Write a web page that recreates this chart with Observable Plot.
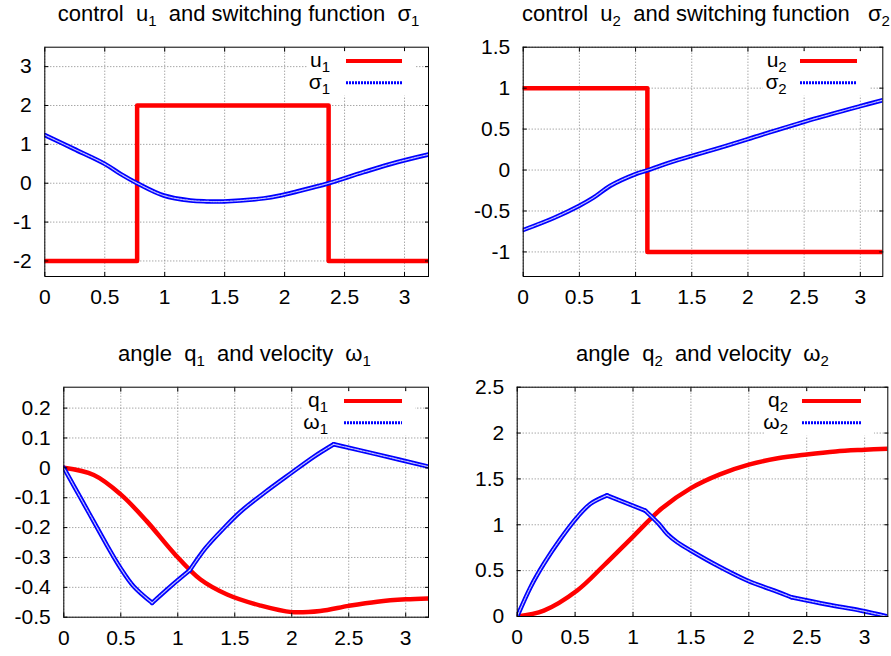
<!DOCTYPE html>
<html><head><meta charset="utf-8">
<script src="https://cdn.jsdelivr.net/npm/d3@7"></script>
<script src="https://cdn.jsdelivr.net/npm/@observablehq/plot@0.6"></script>
<style>
body{margin:0;background:#fff;}
#root{position:relative;width:891px;height:656px;overflow:hidden;background:#fff;font-family:"Liberation Sans",Arial,sans-serif;}
#root > svg, #root > div{position:absolute;}
</style></head>
<body><div id="root"></div>
<script>
// ---------- data ----------
const xTicks = [0, 0.5, 1, 1.5, 2, 2.5, 3];
const switchT = [0.775, 1.105, 2.368];   // kinks in the velocity curves

const u1T = [0, 0.77, 2.367, 3.2];
const u1V = [-2, 2, -2, -2];
const sigma1T = [0, 0.242, 0.5, 0.631, 0.77, 0.992, 1.214, 1.35, 1.492, 1.825, 1.964, 2.103, 2.242, 2.367, 2.658, 2.936, 3.2];
const sigma1V = [1.24, 0.884, 0.498, 0.24, 0, -0.316, -0.445, -0.468, -0.47, -0.39, -0.316, -0.213, -0.103, 0, 0.284, 0.54, 0.74];
const y1Ticks = [-2, -1, 0, 1, 2, 3];

const u2T = [0, 1.105, 3.2];
const u2V = [1, -1, -1];
const sigma2T = [0, 0.272, 0.5, 0.628, 0.776, 1.0, 1.111, 1.309, 1.502, 1.739, 2.0, 2.5, 3.0, 3.2];
const sigma2V = [-0.732, -0.585, -0.435, -0.334, -0.191, -0.049, 0, 0.093, 0.174, 0.268, 0.378, 0.589, 0.78, 0.853];
const y2Ticks = [-1, -0.5, 0, 0.5, 1, 1.5];

const q1T = [0, 0.263, 0.497, 0.731, 0.965, 1.2, 1.433, 1.725, 2.0, 2.25, 2.5, 2.75, 3.0, 3.2];
const q1V = [0, -0.024, -0.088, -0.18, -0.285, -0.374, -0.424, -0.461, -0.483, -0.479, -0.462, -0.448, -0.44, -0.437];
const omega1T = [0, 0.146, 0.263, 0.38, 0.497, 0.614, 0.775, 0.936, 1.105, 1.243, 1.404, 1.55, 1.754, 1.989, 2.193, 2.368, 2.75, 3.2];
const omega1V = [0, -0.1, -0.18, -0.26, -0.335, -0.397, -0.452, -0.397, -0.343, -0.269, -0.202, -0.147, -0.085, -0.019, 0.037, 0.079, 0.045, 0.004];
const y3Ticks = [-0.5, -0.4, -0.3, -0.2, -0.1, 0, 0.1, 0.2];

const q2T = [0, 0.23, 0.518, 0.748, 1.007, 1.25, 1.5, 1.75, 2.0, 2.25, 2.5, 2.75, 3.0, 3.2];
const q2V = [0, 0.065, 0.284, 0.556, 0.88, 1.18, 1.40, 1.55, 1.655, 1.725, 1.767, 1.8, 1.818, 1.83];
const omega2T = [0, 0.115, 0.23, 0.374, 0.518, 0.633, 0.775, 1.105, 1.223, 1.295, 1.382, 1.497, 1.727, 1.986, 2.216, 2.368, 2.677, 2.965, 3.2];
const omega2V = [0, 0.32, 0.575, 0.847, 1.083, 1.229, 1.32, 1.155, 1.01, 0.9, 0.81, 0.72, 0.556, 0.393, 0.284, 0.21, 0.131, 0.065, 0.0];
const y4Ticks = [0, 0.5, 1, 1.5, 2, 2.5];

const titles = [
  ["control  u", "1", "  and switching function  σ", "1"],
  ["control  u", "2", "  and switching function   σ", "2"],
  ["angle  q", "1", "  and velocity  ω", "1"],
  ["angle  q", "2", "  and velocity  ω", "2"]
];
const legendNames = [["u", "1", "σ", "1"], ["u", "2", "σ", "2"], ["q", "1", "ω", "1"], ["q", "2", "ω", "2"]];

// ---------- drawing ----------
const FONT = "'Liberation Sans', Arial, sans-serif";
const FS = 21;
const rows = (T, V) => T.map((t, i) => ({t, v: V[i], seg: 0}));
// split a series into smooth pieces at the switching times (kink points shared)
function pieces(T, V, kinks) {
  const out = [];
  let seg = 0;
  T.forEach((t, i) => {
    out.push({t, v: V[i], seg});
    if (i > 0 && i < T.length - 1 && kinks.some(k => Math.abs(k - t) < 1e-9)) {
      seg++;
      out.push({t, v: V[i], seg});
    }
  });
  return out;
}
const root = document.getElementById("root");

const panels = [
  {left: 0, top: 0, width: 445, height: 310, ml: 44.3, mr: 17, mt: 46.7, mb: 34, yDomain: [-2.4, 3.5], yTicks: y1Ticks,
   red: rows(u1T, u1V), redCurve: "step-after", blue: rows(sigma1T, sigma1V),
   titleX: 238.5, titleY: 21, legEnd: 330, legL1: 346, legL2: 402, legY: 61, boxL: 308, boxR: 415},
  {left: 445, top: 0, width: 446, height: 310, ml: 77.7, mr: 8.7, mt: 46.7, mb: 34, yDomain: [-1.3, 1.5], yTicks: y2Ticks,
   red: rows(u2T, u2V), redCurve: "step-after", blue: rows(sigma2T, sigma2V),
   titleX: 706, titleY: 21, legEnd: 786.7, legL1: 800, legL2: 857, legY: 61, boxL: 763, boxR: 870},
  {left: 0, top: 330, width: 445, height: 326, ml: 63.3, mr: 17, mt: 56.7, mb: 39.3, yDomain: [-0.5, 0.27], yTicks: y3Ticks,
   red: rows(q1T, q1V), redCurve: "catmull-rom", blue: pieces(omega1T, omega1V, switchT),
   titleX: 244.5, titleY: 361, legEnd: 328, legL1: 344, legL2: 402, legY: 401, boxL: 302, boxR: 415},
  {left: 445, top: 330, width: 446, height: 326, ml: 71.7, mr: 3.7, mt: 56.7, mb: 40, yDomain: [0, 2.5], yTicks: y4Ticks,
   red: rows(q2T, q2V), redCurve: "catmull-rom", blue: pieces(omega2T, omega2V, switchT),
   titleX: 702.5, titleY: 361, legEnd: 788, legL1: 802, legL2: 861, legY: 401, boxL: 765, boxR: 874}
];

const grid = {stroke: "#808080", strokeOpacity: 1, strokeDasharray: "1,2", strokeWidth: 1};
const fmt = d => String(d);
const blank = () => "";

panels.forEach(p => {
  const chart = Plot.plot({
    width: p.width, height: p.height,
    marginLeft: p.ml, marginRight: p.mr, marginTop: p.mt, marginBottom: p.mb,
    style: {fontFamily: FONT, fontSize: FS + "px", color: "black", background: "white", overflow: "visible"},
    x: {domain: [0, 3.2]},
    y: {domain: p.yDomain},
    marks: [
      Plot.gridX(xTicks, grid),
      Plot.gridY(p.yTicks, grid),
      Plot.line(p.red, {x: "t", y: "v", stroke: "#ff0000", strokeWidth: 4.5, curve: p.redCurve, clip: true}),
      Plot.line(p.blue, {x: "t", y: "v", z: "seg", stroke: "#0000ff", strokeWidth: 4.5, curve: "catmull-rom", clip: true}),
      Plot.line(p.blue, {x: "t", y: "v", z: "seg", stroke: "#ffffff", strokeOpacity: 0.75, strokeWidth: 1.2, strokeDasharray: "2,1", curve: "catmull-rom", clip: true}),
      Plot.frame({stroke: "black", strokeWidth: 1}),
      Plot.axisX(xTicks, {anchor: "bottom", tickSize: 0, tickPadding: 13, tickFormat: fmt, label: null, fontSize: FS}),
      Plot.axisY(p.yTicks, {anchor: "left", tickSize: 0, tickPadding: 13, tickFormat: fmt, label: null, fontSize: FS}),
      Plot.axisX(xTicks, {anchor: "bottom", tickSize: -4, tickFormat: blank, label: null}),
      Plot.axisX(xTicks, {anchor: "top", tickSize: -4, tickFormat: blank, label: null}),
      Plot.axisY(p.yTicks, {anchor: "left", tickSize: -4, tickFormat: blank, label: null}),
      Plot.axisY(p.yTicks, {anchor: "right", tickSize: -4, tickFormat: blank, label: null})
    ]
  });
  chart.style.left = p.left + "px";
  chart.style.top = p.top + "px";
  root.appendChild(chart);
});

// overlay: titles and legends
const ov = d3.select(root).append("svg")
  .attr("width", 891).attr("height", 656)
  .style("left", "0px").style("top", "0px")
  .style("pointer-events", "none")
  .style("font-family", FONT);

panels.forEach((p, i) => {
  const t = ov.append("text")
    .attr("x", p.titleX).attr("y", p.titleY)
    .attr("text-anchor", "middle")
    .style("white-space", "pre")
    .attr("font-size", 22);
  const parts = titles[i];
  t.append("tspan").text(parts[0]);
  t.append("tspan").attr("font-size", 15).attr("dy", 5).text(parts[1]);
  t.append("tspan").attr("dy", -5).text(parts[2]);
  t.append("tspan").attr("font-size", 15).attr("dy", 5).text(parts[3]);

  const frameTop = p.top + p.mt;
  ov.append("rect")
    .attr("x", p.boxL).attr("y", frameTop + 4.5)
    .attr("width", p.boxR - p.boxL).attr("height", (p.legY + 21.7 + 13) - (frameTop + 4.5))
    .attr("fill", "white");
  const names = legendNames[i];
  [0, 1].forEach(k => {
    const ly = p.legY + k * 21.7;
    const lt = ov.append("text")
      .attr("x", p.legEnd).attr("y", ly + 6)
      .attr("text-anchor", "end")
      .attr("font-size", FS);
    lt.append("tspan").text(names[k * 2]);
    lt.append("tspan").attr("font-size", 15).attr("dy", 5).text(names[k * 2 + 1]);
    ov.append("line")
      .attr("x1", p.legL1).attr("x2", p.legL2)
      .attr("y1", ly).attr("y2", ly)
      .attr("stroke", k === 0 ? "#ff0000" : "#0000ff")
      .attr("stroke-width", k === 0 ? 4 : 3)
      .attr("stroke-dasharray", k === 0 ? null : "2,1");
  });
});
</script>
</body></html>
